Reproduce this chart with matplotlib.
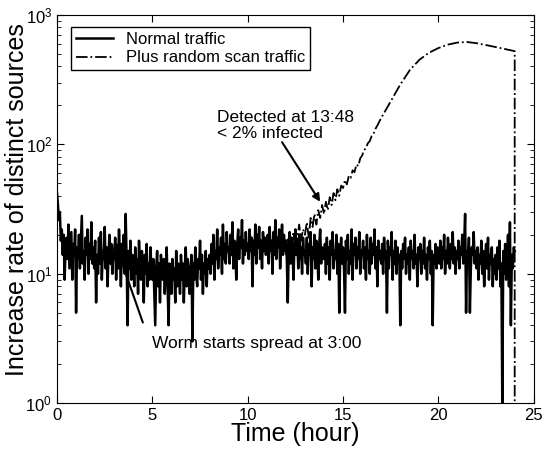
import matplotlib
matplotlib.use('Agg')
import matplotlib.pyplot as plt
import numpy as np

plt.rcParams['font.family'] = ['Liberation Sans', 'DejaVu Sans']

# normal traffic, 20 samples per hour (every 3 min), t = 0 .. 24
normal = [
    42, 34, 26, 30, 18, 22, 14, 20, 9, 16, 19, 13, 24, 11, 15, 21, 9, 17, 14, 22,
    5, 16, 13, 20, 11, 18, 28, 12, 15, 9, 19, 14, 22, 10, 17, 13, 25, 12, 16, 11,
    18, 6, 14, 10, 19, 12, 21, 9, 15, 13, 23, 11, 16, 8, 14, 20, 12, 17, 10, 15,
    13, 19, 9, 16, 11, 22, 14, 8, 17, 12, 20, 10, 29, 13, 4, 15, 11, 18, 9, 14,
    12, 8, 16, 10, 13, 7, 18, 11, 9, 15, 12, 6, 14, 10, 17, 8, 12, 9, 16, 11,
    9, 13, 7, 4, 11, 15, 8, 12, 6, 14, 10, 9, 13, 7, 11, 16, 8, 4, 12, 10,
    7, 13, 9, 11, 6, 15, 8, 12, 10, 7, 14, 9, 12, 6, 11, 16, 8, 13, 10, 7,
    11, 14, 3, 12, 9, 16, 10, 8, 13, 11, 18, 9, 14, 7, 12, 10, 15, 8, 13, 11,
    14, 10, 17, 12, 20, 9, 15, 13, 22, 11, 16, 14, 19, 10, 24, 13, 17, 12, 21, 15,
    16, 12, 20, 14, 25, 11, 18, 15, 9, 17, 22, 13, 19, 16, 26, 12, 18, 14, 21, 15,
    17, 13, 22, 15, 19, 8, 18, 14, 24, 12, 20, 16, 23, 13, 18, 11, 21, 15, 19, 14,
    16, 20, 12, 23, 15, 18, 10, 21, 14, 26, 13, 19, 16, 22, 11, 17, 24, 14, 20, 15,
    18, 13, 6, 16, 21, 12, 19, 15, 9, 17, 22, 14, 18, 11, 20, 13, 16, 10, 19, 14,
    15, 12, 19, 10, 17, 14, 21, 8, 16, 13, 20, 11, 18, 15, 9, 17, 22, 12, 16, 14,
    13, 17, 10, 19, 12, 16, 9, 18, 14, 21, 11, 15, 13, 20, 10, 17, 5, 14, 19, 12,
    16, 11, 5, 18, 13, 20, 10, 15, 12, 22, 9, 17, 14, 19, 11, 16, 13, 21, 10, 15,
    14, 18, 11, 16, 9, 20, 13, 15, 10, 19, 12, 17, 14, 22, 11, 16, 8, 18, 13, 15,
    12, 17, 10, 19, 13, 15, 5, 18, 11, 16, 14, 21, 9, 15, 12, 18, 10, 16, 13, 14,
    4, 15, 11, 17, 13, 19, 10, 14, 12, 16, 9, 18, 13, 15, 11, 20, 12, 14, 8, 16,
    13, 17, 10, 15, 12, 19, 11, 14, 9, 16, 13, 18, 10, 15, 4, 14, 12, 17, 11, 16,
    14, 12, 18, 11, 16, 13, 20, 10, 15, 12, 19, 14, 11, 17, 13, 21, 12, 16, 10, 15,
    13, 18, 11, 16, 14, 20, 12, 17, 29, 5, 15, 13, 19, 5, 11, 16, 14, 21, 12, 15,
    11, 16, 9, 14, 12, 18, 10, 15, 8, 13, 17, 11, 19, 9, 14, 12, 16, 8, 13, 10,
    14, 9, 16, 11, 18, 8, 12, 1, 15, 10, 17, 9, 13, 20, 8, 25, 4, 14, 11, 16,
    15,
]
normal_t = [i / 20 for i in range(len(normal))]

# normal + random scan traffic (visible part, from 12:00)
scan_t = [12.0, 12.1, 12.2, 12.3, 12.4, 12.5, 12.6, 12.7, 12.8, 12.9,
          13.0, 13.1, 13.2, 13.3, 13.4, 13.5, 13.6, 13.7, 13.8, 13.9,
          14.0, 14.1, 14.2, 14.3, 14.4, 14.5, 14.6, 14.7, 14.8, 14.9,
          15.0, 15.1, 15.2, 15.3, 15.4, 15.5, 15.6, 15.7, 15.8, 15.9,
          16.0, 16.1, 16.2, 16.3, 16.4, 16.5, 16.6, 16.7, 16.8, 16.9,
          17.0, 17.5, 18.0, 18.5, 19.0, 19.5, 20.0, 20.5, 21.0, 21.5,
          22.0, 22.5, 23.0, 23.5, 24.0, 24.0]
scan_v = [14, 19, 12, 17, 21, 15, 19, 24, 18, 22,
          20, 25, 19, 27, 23, 29, 24, 31, 27, 34,
          29, 36, 31, 39, 34, 42, 37, 45, 40, 48,
          46, 53, 49, 57, 55, 63, 61, 70, 68, 78,
          82, 90, 94, 102, 106, 116, 121, 132, 140, 150,
          160, 215, 290, 375, 450, 510, 555, 590, 612, 618,
          605, 585, 565, 545, 525, 0.5]

fig = plt.figure(figsize=(5.43, 4.53), dpi=100)
ax = fig.add_axes([0.105, 0.110, 0.878, 0.857])

ax.plot(normal_t, normal, color='black', linewidth=1.8, label='Normal traffic')
ax.plot(scan_t, scan_v, color='black', linewidth=1.3, linestyle='-.',
        label='Plus random scan traffic')

ax.set_yscale('log')
ax.set_xlim(0, 25)
ax.set_ylim(1, 1000)
ax.set_xticks([0, 5, 10, 15, 20, 25])
ax.tick_params(which='both', direction='in', top=True, right=True, labelsize=12)
ax.tick_params(which='major', length=5)
ax.tick_params(which='minor', length=3)

ax.set_xlabel('Time (hour)', fontsize=18, labelpad=-1)
ax.set_ylabel('Increase rate of distinct sources', fontsize=18)
ax.yaxis.set_label_coords(-0.058, 0.525)

# annotations: text and arrow drawn separately
ax.text(8.4, 140, 'Detected at 13:48\n< 2% infected', fontsize=12.5,
        ha='left', va='center', linespacing=1.05)
ax.annotate('', xy=(13.8, 36), xytext=(11.8, 104),
            arrowprops=dict(arrowstyle='-|>', color='black', lw=1.5,
                            shrinkA=0, shrinkB=0, mutation_scale=11))
ax.text(5.0, 2.9, 'Worm starts spread at 3:00', fontsize=12.5,
        ha='left', va='center')
ax.annotate('', xy=(3.0, 18), xytext=(4.5, 4.2),
            arrowprops=dict(arrowstyle='-|>', color='black', lw=1.5,
                            shrinkA=0, shrinkB=0, mutation_scale=11))

leg = ax.legend(loc='upper left', bbox_to_anchor=(0.012, 0.99), fontsize=12,
                fancybox=False, edgecolor='black', framealpha=1,
                handlelength=2.2, borderpad=0.3, labelspacing=0.2)
leg.get_frame().set_linewidth(1.0)

plt.savefig('out.png', dpi=100)
